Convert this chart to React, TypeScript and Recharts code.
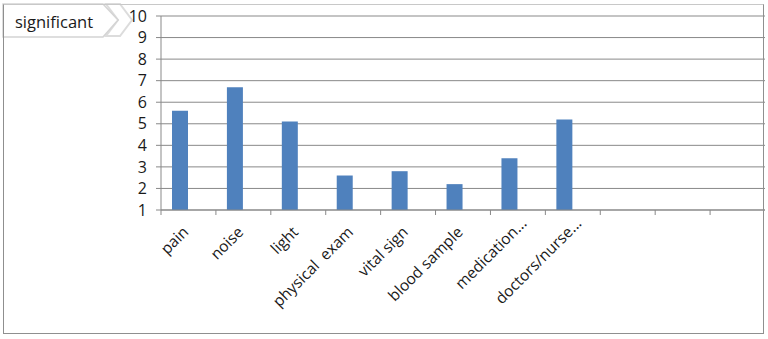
import React from 'react';
import { BarChart, Bar, XAxis, YAxis, CartesianGrid } from 'recharts';

// categories along the x axis (the last three slots are empty in the sheet)
const categories = [
  'pain',
  'noise',
  'light',
  'physical  exam',
  'vital sign',
  'blood sample',
  'medication...',
  'doctors/nurse...',
  '',
  '',
  '',
];

const scores: (number | null)[] = [5.6, 6.7, 5.1, 2.6, 2.8, 2.2, 3.4, 5.2, null, null, null];
// second column of the sheet has no values, but still takes its slot next to each bar
const secondSeries: (number | null)[] = [null, null, null, null, null, null, null, null, null, null, null];

const yTicks = [1, 2, 3, 4, 5, 6, 7, 8, 9, 10];

const titleText = 'significant';

const W = 768;
const H = 339;
const PLOT_LEFT = 161;
const PLOT_RIGHT = 765;
const BAND = (PLOT_RIGHT - PLOT_LEFT) / categories.length;

const FONT = '"Open Sans", "Noto Sans", sans-serif';
const GRID = '#898989';
const INK = '#1a1a1a';
const LABEL_SIZE = 15.5;

const chartData = categories.map((name, i) => ({ name, value: scores[i], second: secondSeries[i] }));

function CategoryTick(props: any) {
  const { x, y, payload } = props;
  const left = x - BAND / 2;
  const label: string = payload.value || '';
  const cut = label.endsWith('...');
  const main = cut ? label.slice(0, -3) : label;
  const ax = x + 1;
  const ay = y + 23;
  const rot = `rotate(-45 ${ax} ${ay})`;
  return (
    <g>
      <line x1={left} y1={y} x2={left} y2={y + 5} stroke={GRID} strokeWidth={1} />
      <text
        x={ax}
        y={ay}
        textAnchor="end"
        fontSize={LABEL_SIZE}
        fontFamily={FONT}
        fill={INK}
        transform={rot}
        style={{ whiteSpace: 'pre' }}
      >
        {main}
      </text>
      {cut && (
        <text x={ax} y={ay} textAnchor="start" fontSize={LABEL_SIZE} fontFamily={FONT} fill={INK} transform={rot}>
          ...
        </text>
      )}
    </g>
  );
}

export default function App() {
  return (
    <div style={{ position: 'absolute', left: 0, top: 0, width: W, height: H, background: '#fff' }}>
      {/* header chevrons, under the chart so the "10" label stays on top */}
      <svg width={150} height={42} style={{ position: 'absolute', left: 0, top: 0 }}>
        <polygon
          points="106,4 120,4 132,20 120,36 106,36 118,20"
          fill="#ffffff"
          stroke="#dcdcdc"
          strokeWidth={2}
        />
        <polygon
          points="3,4 103,4 118,20 103,37 3,37"
          fill="#ffffff"
          stroke="#d4d4d4"
          strokeWidth={1.5}
        />
        <text x={15} y={28} fontSize={16.5} fontFamily={FONT} fill={INK}>
          {titleText}
        </text>
      </svg>

      <BarChart
        width={W}
        height={H}
        data={chartData}
        barGap={0}
        margin={{ top: 16, right: W - PLOT_RIGHT, left: PLOT_LEFT - 60, bottom: 9 }}
      >
        <CartesianGrid vertical={false} stroke={GRID} strokeWidth={1} />
        <XAxis
          dataKey="name"
          height={120}
          stroke={GRID}
          tickLine={false}
          tickSize={0}
          tickMargin={0}
          interval={0}
          tick={<CategoryTick />}
        />
        <YAxis
          width={60}
          domain={[1, 10]}
          ticks={yTicks}
          interval={0}
          stroke={GRID}
          tickSize={5}
          tickMargin={9}
          tick={{ fontSize: 16, fontFamily: FONT, fill: INK }}
        />
        <Bar dataKey="value" fill="#4f81bd" barSize={16} isAnimationActive={false} />
        <Bar dataKey="second" fill="#c0504d" barSize={16} isAnimationActive={false} />
      </BarChart>

      {/* outer chart frame */}
      <div
        style={{
          position: 'absolute',
          left: 3,
          top: 4,
          width: 761,
          height: 330,
          border: '1px solid #8f8f8f',
          borderTopColor: '#c8c8c8',
          boxSizing: 'border-box',
          pointerEvents: 'none',
        }}
      />
    </div>
  );
}
